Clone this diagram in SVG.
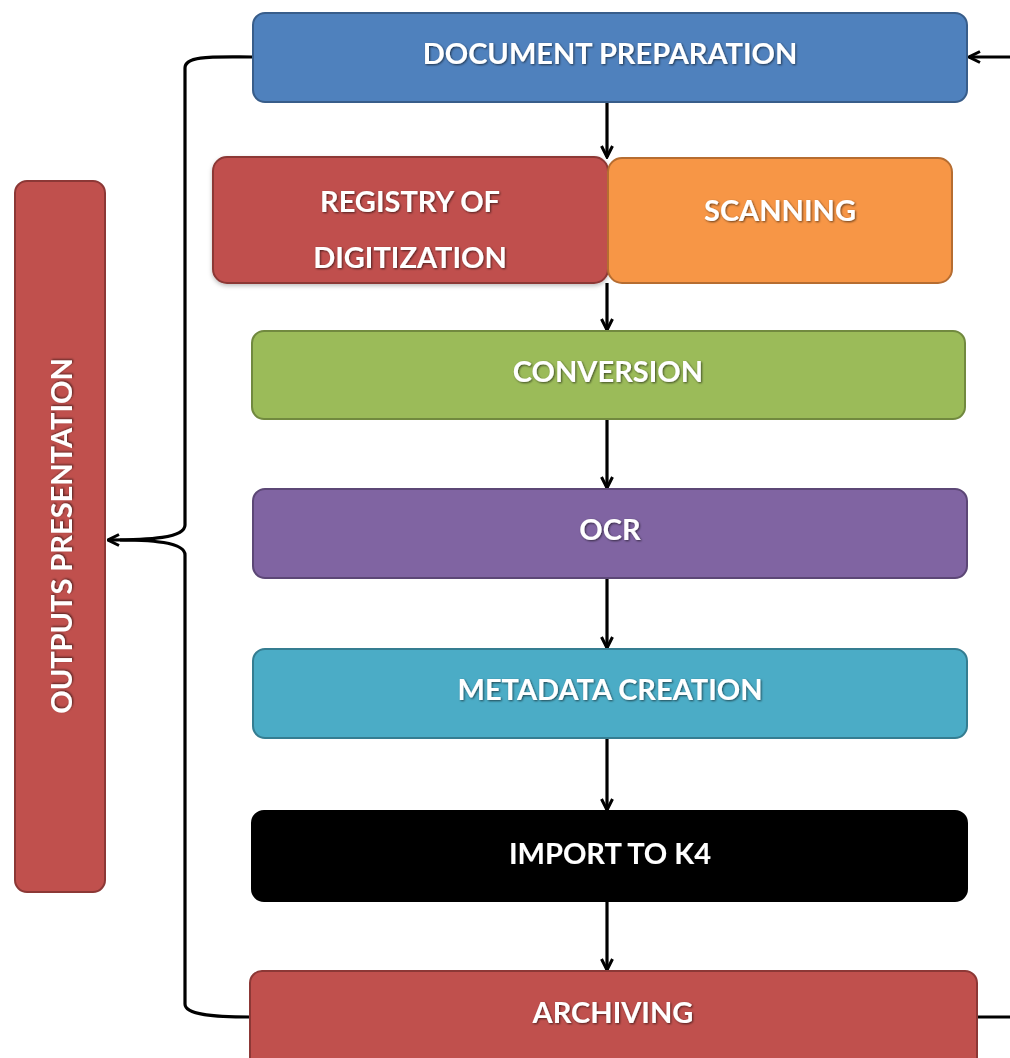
<svg xmlns="http://www.w3.org/2000/svg" width="1010" height="1058" viewBox="0 0 1010 1058">
<style>
.box{stroke-width:2}
.lbl{font-family:Lato,"Open Sans","Liberation Sans",sans-serif;font-weight:bold;font-size:29px;fill:#fff;text-anchor:middle;dominant-baseline:central;filter:url(#ts)}
.conn{fill:none;stroke:#000;stroke-width:3.2}
</style>
<defs>
<marker id="ah" viewBox="0 0 14 14" refX="12.5" refY="7" markerWidth="14" markerHeight="14" markerUnits="userSpaceOnUse" orient="auto">
<path d="M1.5,1.5 L12.5,7 L1.5,12.5" fill="none" stroke="#000" stroke-width="3"/>
</marker>
<filter id="ts" x="-10%" y="-30%" width="120%" height="160%">
<feDropShadow dx="1" dy="1" stdDeviation="0.8" flood-color="#000" flood-opacity="0.6"/>
</filter>
<filter id="bs" x="-5%" y="-10%" width="110%" height="120%">
<feDropShadow dx="0" dy="2" stdDeviation="2" flood-color="#000" flood-opacity="0.25"/>
</filter>
</defs>
<rect width="1010" height="1058" fill="#fff"/>
<g id="connectors">
<path class="conn" d="M253,57 C215,57 185,55 185,68 L185,525 C185,538 150,540 108,540" marker-end="url(#ah)"/>
<path class="conn" d="M250,1017 C215,1017 185,1015 185,1004 L185,555 C185,542 150,540 120,540"/>
<path class="conn" d="M1010,57 L969,57" marker-end="url(#ah)"/>
<path class="conn" d="M977,1017 L1010,1017"/>
<path class="conn" d="M607,102 L607,157" marker-end="url(#ah)"/>
<path class="conn" d="M607,283 L607,330" marker-end="url(#ah)"/>
<path class="conn" d="M607,419 L607,488" marker-end="url(#ah)"/>
<path class="conn" d="M607,578 L607,648" marker-end="url(#ah)"/>
<path class="conn" d="M607,738 L607,810" marker-end="url(#ah)"/>
<path class="conn" d="M607,901 L607,970" marker-end="url(#ah)"/>
</g>
<g id="outputs">
<rect class="box" x="15" y="181" width="90" height="711" rx="12" fill="#C0504D" stroke="#8C3836"/>
<text class="lbl" transform="translate(60,536) rotate(-90)">OUTPUTS PRESENTATION</text>
</g>
<g id="docprep">
<rect class="box" x="253" y="13" width="714" height="89" rx="12" fill="#4F81BD" stroke="#385D8A"/>
<text class="lbl" x="610" y="52">DOCUMENT PREPARATION</text>
</g>
<g id="registry">
<rect class="box" x="213" y="157" width="395" height="126" rx="14" fill="#C0504D" stroke="#8C3836" filter="url(#bs)"/>
<text class="lbl" x="410" y="200">REGISTRY OF</text>
<text class="lbl" x="410" y="256">DIGITIZATION</text>
</g>
<g id="scanning">
<rect class="box" x="608" y="158" width="344" height="125" rx="14" fill="#F79646" stroke="#B66D31"/>
<text class="lbl" x="780" y="209">SCANNING</text>
</g>
<g id="conversion">
<rect class="box" x="252" y="331" width="713" height="88" rx="12" fill="#9BBB59" stroke="#71893F"/>
<text class="lbl" x="608" y="370">CONVERSION</text>
</g>
<g id="ocr">
<rect class="box" x="253" y="489" width="714" height="89" rx="12" fill="#8064A2" stroke="#5C4776"/>
<text class="lbl" x="610" y="528">OCR</text>
</g>
<g id="metadata">
<rect class="box" x="253" y="649" width="714" height="89" rx="12" fill="#4BACC6" stroke="#357D91"/>
<text class="lbl" x="610" y="688">METADATA CREATION</text>
</g>
<g id="import">
<rect class="box" x="252" y="811" width="715" height="90" rx="12" fill="#000" stroke="#000"/>
<text class="lbl" x="610" y="852">IMPORT TO K4</text>
</g>
<g id="archiving">
<rect class="box" x="250" y="971" width="727" height="100" rx="12" fill="#C0504D" stroke="#8C3836"/>
<text class="lbl" x="613" y="1011">ARCHIVING</text>
</g>
</svg>
